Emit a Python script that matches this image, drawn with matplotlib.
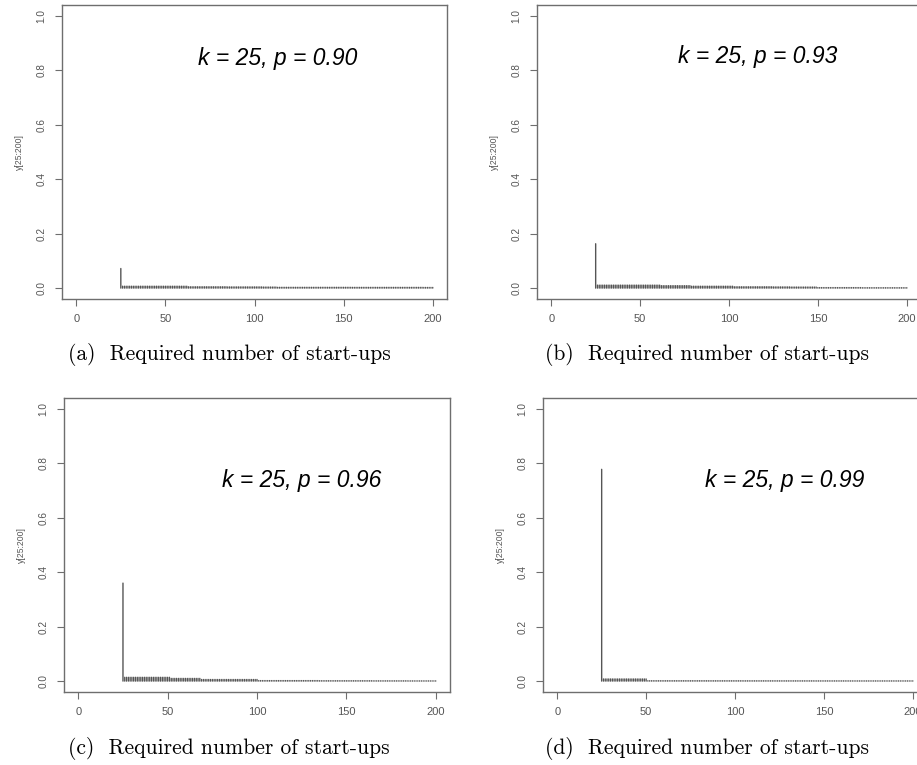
import matplotlib
matplotlib.use("Agg")
import matplotlib.pyplot as plt
import numpy as np

# x positions: start-ups 25..200
x = np.arange(25, 201)

# values, one row = 10 start-ups (25-34, 35-44, ...)
y_a = [0.072, 0.007, 0.007, 0.007, 0.007, 0.007, 0.007, 0.007, 0.007, 0.007,
       0.007, 0.007, 0.007, 0.007, 0.007, 0.007, 0.007, 0.007, 0.007, 0.007,
       0.007, 0.007, 0.007, 0.007, 0.007, 0.007, 0.007, 0.007, 0.007, 0.007,
       0.007, 0.007, 0.007, 0.007, 0.007, 0.007, 0.007, 0.007, 0.005, 0.005,
       0.005, 0.005, 0.005, 0.005, 0.005, 0.005, 0.005, 0.005, 0.005, 0.005,
       0.005, 0.005, 0.005, 0.005, 0.005, 0.005, 0.005, 0.005, 0.005, 0.005,
       0.0045, 0.0045, 0.0045, 0.0045, 0.0045, 0.0045, 0.0045, 0.0045, 0.0045, 0.0045,
       0.0045, 0.0045, 0.0045, 0.0045, 0.0045, 0.0045, 0.0045, 0.0045, 0.0045, 0.0045,
       0.004, 0.004, 0.004, 0.004, 0.004, 0.004, 0.004, 0.004, 0.003, 0.003,
       0.003, 0.003, 0.003, 0.003, 0.003, 0.003, 0.003, 0.003, 0.003, 0.003,
       0.003, 0.003, 0.003, 0.003, 0.003, 0.003, 0.003, 0.003, 0.003, 0.003,
       0.003, 0.003, 0.003, 0.003, 0.003, 0.003, 0.003, 0.003, 0.003, 0.003,
       0.003, 0.003, 0.003, 0.003, 0.003, 0.003, 0.003, 0.003, 0.003, 0.003,
       0.0028, 0.0028, 0.0028, 0.0028, 0.0028, 0.0028, 0.0028, 0.0028, 0.0028, 0.0028,
       0.0028, 0.0028, 0.0028, 0.0028, 0.0028, 0.0028, 0.0028, 0.0028, 0.0028, 0.0028,
       0.0028, 0.0028, 0.0028, 0.0028, 0.0028, 0.0028, 0.0028, 0.0028, 0.0028, 0.0028,
       0.0028, 0.0028, 0.0028, 0.0028, 0.0028, 0.0028, 0.0028, 0.0028, 0.0028, 0.0028,
       0.0025, 0.0025, 0.0025, 0.0025, 0.0025, 0.0025]

y_b = [0.163, 0.011, 0.011, 0.011, 0.011, 0.011, 0.011, 0.011, 0.011, 0.011,
       0.011, 0.011, 0.011, 0.011, 0.011, 0.011, 0.011, 0.011, 0.011, 0.011,
       0.011, 0.011, 0.011, 0.011, 0.011, 0.011, 0.011, 0.011, 0.011, 0.011,
       0.011, 0.011, 0.011, 0.011, 0.011, 0.011, 0.011, 0.009, 0.009, 0.009,
       0.009, 0.009, 0.009, 0.009, 0.009, 0.009, 0.009, 0.009, 0.009, 0.009,
       0.009, 0.009, 0.009, 0.009, 0.007, 0.007, 0.007, 0.007, 0.007, 0.007,
       0.007, 0.007, 0.007, 0.007, 0.007, 0.007, 0.007, 0.007, 0.007, 0.007,
       0.007, 0.007, 0.007, 0.007, 0.007, 0.007, 0.007, 0.007, 0.005, 0.005,
       0.005, 0.005, 0.005, 0.005, 0.005, 0.005, 0.005, 0.005, 0.005, 0.005,
       0.005, 0.005, 0.005, 0.005, 0.005, 0.005, 0.005, 0.005, 0.005, 0.005,
       0.0045, 0.0045, 0.0045, 0.0045, 0.0045, 0.0045, 0.0045, 0.0045, 0.0045, 0.0045,
       0.004, 0.004, 0.004, 0.004, 0.004, 0.004, 0.004, 0.004, 0.004, 0.004,
       0.004, 0.004, 0.004, 0.004, 0.004, 0.002, 0.002, 0.002, 0.002, 0.002,
       0.002, 0.002, 0.002, 0.002, 0.002, 0.002, 0.002, 0.002, 0.002, 0.002,
       0.002, 0.002, 0.002, 0.002, 0.002, 0.002, 0.002, 0.002, 0.002, 0.002,
       0.0015, 0.0015, 0.0015, 0.0015, 0.0015, 0.0015, 0.0015, 0.0015, 0.0015, 0.0015,
       0.0015, 0.0015, 0.0015, 0.0015, 0.0015, 0.0015, 0.0015, 0.0015, 0.0015, 0.0015,
       0.0015, 0.0015, 0.0015, 0.0015, 0.0015, 0.0015]

y_c = [0.360, 0.014, 0.014, 0.014, 0.014, 0.014, 0.014, 0.014, 0.014, 0.014,
       0.014, 0.014, 0.014, 0.014, 0.014, 0.014, 0.014, 0.014, 0.014, 0.014,
       0.014, 0.014, 0.014, 0.014, 0.014, 0.014, 0.014, 0.010, 0.010, 0.010,
       0.010, 0.010, 0.010, 0.010, 0.010, 0.010, 0.010, 0.010, 0.010, 0.010,
       0.010, 0.010, 0.010, 0.010, 0.006, 0.006, 0.006, 0.006, 0.006, 0.006,
       0.006, 0.006, 0.006, 0.006, 0.006, 0.006, 0.006, 0.006, 0.006, 0.006,
       0.006, 0.006, 0.006, 0.006, 0.006, 0.006, 0.006, 0.006, 0.006, 0.006,
       0.006, 0.006, 0.006, 0.006, 0.006, 0.006, 0.002, 0.002, 0.002, 0.002,
       0.002, 0.002, 0.002, 0.002, 0.002, 0.002, 0.002, 0.002, 0.002, 0.002,
       0.002, 0.002, 0.002, 0.002, 0.002, 0.002, 0.002, 0.002, 0.002, 0.002,
       0.002, 0.002, 0.002, 0.002, 0.002, 0.002, 0.002, 0.002, 0.002, 0.002,
       0.0015, 0.0015, 0.0015, 0.0015, 0.0015, 0.0015, 0.0015, 0.0015, 0.0015, 0.0015,
       0.0015, 0.0015, 0.0015, 0.0015, 0.0015, 0.0015, 0.0015, 0.0015, 0.0015, 0.0015,
       0.0015, 0.0015, 0.0015, 0.0015, 0.0015, 0.0015, 0.0015, 0.0015, 0.0015, 0.0015,
       0.0012, 0.0012, 0.0012, 0.0012, 0.0012, 0.0012, 0.0012, 0.0012, 0.0012, 0.0012,
       0.0012, 0.0012, 0.0012, 0.0012, 0.0012, 0.0012, 0.0012, 0.0012, 0.0012, 0.0012,
       0.001, 0.001, 0.001, 0.001, 0.001, 0.001, 0.001, 0.001, 0.001, 0.001,
       0.001, 0.001, 0.001, 0.001, 0.001, 0.001]

y_d = [0.778, 0.008, 0.008, 0.008, 0.008, 0.008, 0.008, 0.008, 0.008, 0.008,
       0.008, 0.008, 0.008, 0.008, 0.008, 0.008, 0.008, 0.008, 0.008, 0.008,
       0.008, 0.008, 0.008, 0.008, 0.008, 0.008, 0.0015, 0.0015, 0.0015, 0.0015,
       0.0015, 0.0015, 0.0015, 0.0015, 0.0015, 0.0015, 0.0015, 0.0015, 0.0015, 0.0015,
       0.0015, 0.0015, 0.0015, 0.0015, 0.0015, 0.0015, 0.0015, 0.0015, 0.0015, 0.0015,
       0.0015, 0.0015, 0.0015, 0.0015, 0.0015, 0.0015, 0.0015, 0.0015, 0.0015, 0.0015,
       0.0014, 0.0014, 0.0014, 0.0014, 0.0014, 0.0014, 0.0014, 0.0014, 0.0014, 0.0014,
       0.0014, 0.0014, 0.0014, 0.0014, 0.0014, 0.0014, 0.0014, 0.0014, 0.0014, 0.0014,
       0.0013, 0.0013, 0.0013, 0.0013, 0.0013, 0.0013, 0.0013, 0.0013, 0.0013, 0.0013,
       0.0013, 0.0013, 0.0013, 0.0013, 0.0013, 0.0013, 0.0013, 0.0013, 0.0013, 0.0013,
       0.0012, 0.0012, 0.0012, 0.0012, 0.0012, 0.0012, 0.0012, 0.0012, 0.0012, 0.0012,
       0.0012, 0.0012, 0.0012, 0.0012, 0.0012, 0.0012, 0.0012, 0.0012, 0.0012, 0.0012,
       0.0011, 0.0011, 0.0011, 0.0011, 0.0011, 0.0011, 0.0011, 0.0011, 0.0011, 0.0011,
       0.0011, 0.0011, 0.0011, 0.0011, 0.0011, 0.0011, 0.0011, 0.0011, 0.0011, 0.0011,
       0.001, 0.001, 0.001, 0.001, 0.001, 0.001, 0.001, 0.001, 0.001, 0.001,
       0.001, 0.001, 0.001, 0.001, 0.001, 0.001, 0.001, 0.001, 0.001, 0.001,
       0.001, 0.001, 0.001, 0.001, 0.001, 0.001, 0.001, 0.001, 0.001, 0.001,
       0.001, 0.001, 0.001, 0.001, 0.001, 0.001]

labels = ["k = 25, p = 0.90", "k = 25, p = 0.93", "k = 25, p = 0.96", "k = 25, p = 0.99"]
captions = ["(a)  Required number of start-ups", "(b)  Required number of start-ups",
            "(c)  Required number of start-ups", "(d)  Required number of start-ups"]
x_ticks = [0, 50, 100, 150, 200]
y_ticks = [0.0, 0.2, 0.4, 0.6, 0.8, 1.0]

W, H = 917, 765
fig = plt.figure(figsize=(W / 100, H / 100), dpi=100)

# panel boxes in pixels: left, top, right, bottom
boxes = [(62, 5, 447, 299), (537, 5, 921, 299),
         (64, 398, 450, 692), (543, 398, 927, 692)]
# text positions in pixels: annotation centre, caption centre
ann_pos = [(278, 58), (758, 57), (302, 481), (785, 481)]
cap_pos = [(229, 355), (707, 355), (229, 749), (707, 749)]

grey = "#6e6e6e"
all_y = [y_a, y_b, y_c, y_d]

for i in range(4):
    l, t, r, b = boxes[i]
    ax = fig.add_axes([l / W, 1 - b / H, (r - l) / W, (b - t) / H])
    # round caps like R's type="h", so the tiny tail values still show as dots
    ax.vlines(x, 0, all_y[i], color="#555555", lw=1.0, capstyle="round",
              snap=False)
    ax.set_xlim(-8, 208)
    ax.set_ylim(-0.04, 1.04)
    ax.set_xticks(x_ticks)
    ax.set_xticklabels([str(v) for v in x_ticks], family="Liberation Sans",
                       fontsize=8)
    ax.set_yticks(y_ticks)
    ax.set_yticklabels(["%.1f" % v for v in y_ticks], rotation=90, va="center",
                       family="Liberation Sans", fontsize=7.2)
    ax.tick_params(direction="out", length=5, width=0.8, color=grey,
                   labelcolor="#555555", pad=6)
    for s in ax.spines.values():
        s.set_color(grey)
        s.set_linewidth(1.0)
    ax.set_ylabel("y[25:200]", family="Liberation Sans", fontsize=6.2,
                  color="#555555", labelpad=9)

    ax_, ay_ = ann_pos[i]
    fig.text(ax_ / W, 1 - ay_ / H, labels[i], family="Liberation Sans",
             style="italic", fontsize=16.5, ha="center", va="center")
    cx, cy = cap_pos[i]
    fig.text(cx / W, 1 - cy / H, captions[i], family="cmr10",
             fontsize=15.5, ha="center", va="center")

fig.savefig("out.png", dpi=100)
